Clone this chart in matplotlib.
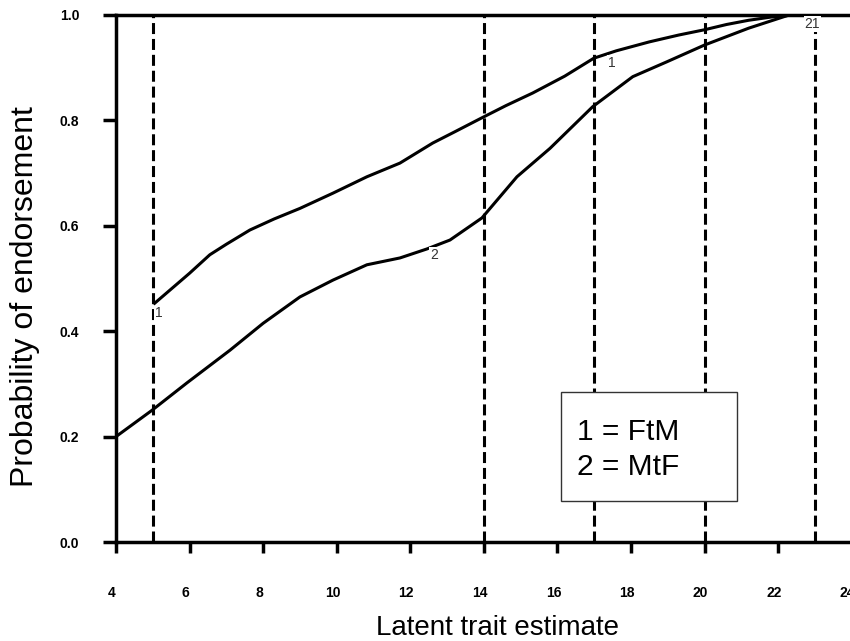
import matplotlib
matplotlib.use("Agg")
import matplotlib.pyplot as plt
from matplotlib.patches import Rectangle
from matplotlib.transforms import ScaledTranslation

plt.rcParams['font.family'] = ['Liberation Sans', 'DejaVu Sans']

# Kurve 1 = FtM
ftm_x = [5.05, 5.5, 6.0, 6.55, 7.0, 7.64, 8.3, 9.0, 9.9, 10.82, 11.72, 12.61, 13.2,
         13.95, 14.6, 15.33, 16.2, 16.99, 17.6, 18.5, 19.3, 20.0, 20.6, 21.2, 21.8, 22.4]
ftm_y = [0.453, 0.48, 0.51, 0.545, 0.565, 0.592, 0.613, 0.633, 0.662, 0.693, 0.719, 0.757, 0.778,
         0.805, 0.828, 0.852, 0.884, 0.918, 0.932, 0.949, 0.962, 0.972, 0.982, 0.99, 0.996, 1.0]

# Kurve 2 = MtF
mtf_x = [4.0, 4.98, 5.93, 7.1, 8.0, 9.0, 9.9, 10.82, 11.72, 12.45, 13.08, 13.95, 14.9,
         15.8, 16.96, 18.05, 18.97, 20.0, 21.2, 22.3]
mtf_y = [0.20, 0.250, 0.302, 0.364, 0.415, 0.465, 0.497, 0.526, 0.539, 0.556, 0.573, 0.615, 0.693,
         0.747, 0.826, 0.883, 0.911, 0.943, 0.975, 1.0]

# Garis putus-putus vertikal
cut_x = [5.0, 14.0, 17.0, 20.0, 23.0]

# Label kecil pada kurve
marks = [("1", 5.06, 0.434), ("2", 12.53, 0.545), ("1", 17.37, 0.909), ("21", 22.72, 0.983)]

x_ticks = list(range(4, 25, 2))
y_ticks = [0.0, 0.2, 0.4, 0.6, 0.8, 1.0]

fig = plt.figure(figsize=(8.5, 6.41), dpi=100)
ax = fig.add_axes([116 / 850, 99 / 641, (859 - 116) / 850, 527 / 641])

for xc in cut_x:
    ax.plot([xc, xc], [0, 1], color="black", lw=2.2, dashes=(3.6, 1.6), zorder=2)

ax.plot(ftm_x, ftm_y, color="black", lw=2.2, zorder=3, solid_joinstyle="round")
ax.plot(mtf_x, mtf_y, color="black", lw=2.2, zorder=3, solid_joinstyle="round")

for txt, mx, my in marks:
    ax.text(mx, my, txt, fontsize=10, color="#333333", ha="left", va="center", zorder=4,
            bbox=dict(facecolor="white", edgecolor="none", pad=0.5))

ax.set_xlim(4, 24.2)
ax.set_ylim(0, 1)
ax.set_xticks(x_ticks)
ax.set_yticks(y_ticks)
ax.set_xticklabels([str(v) for v in x_ticks], fontsize=10, fontweight="bold")
ax.set_yticklabels(["%.1f" % v for v in y_ticks], fontsize=10, fontweight="bold")
ax.tick_params(axis="x", direction="out", length=8, width=2.5, pad=24)
ax.tick_params(axis="y", direction="out", length=9.4, width=2.5, pad=17)

# label sumbu x sedikit ke kiri
shift = ScaledTranslation(-4 / 100, 0, fig.dpi_scale_trans)
for lbl in ax.get_xticklabels():
    lbl.set_transform(lbl.get_transform() + shift)

for side in ["left", "bottom", "top"]:
    ax.spines[side].set_linewidth(2.5)
ax.spines["right"].set_visible(False)

# Kotak keterangan
box = Rectangle((561 / 850, 1 - 501 / 641), (737 - 561) / 850, (501 - 392) / 641,
                transform=fig.transFigure, facecolor="white", edgecolor="#333333",
                lw=1.0, zorder=5)
fig.patches.append(box)
fig.text(577 / 850, 1 - 440 / 641, "1 = FtM", fontsize=21.5, va="baseline", zorder=6)
fig.text(577 / 850, 1 - 475 / 641, "2 = MtF", fontsize=21.5, va="baseline", zorder=6)

fig.text(497 / 850, 1 - 635 / 641, "Latent trait estimate", fontsize=20,
         ha="center", va="baseline")
fig.text(25 / 850, 1 - 297 / 641, "Probability of endorsement", fontsize=23,
         rotation=90, ha="center", va="center")

fig.savefig("out.png", dpi=100, facecolor="white")
